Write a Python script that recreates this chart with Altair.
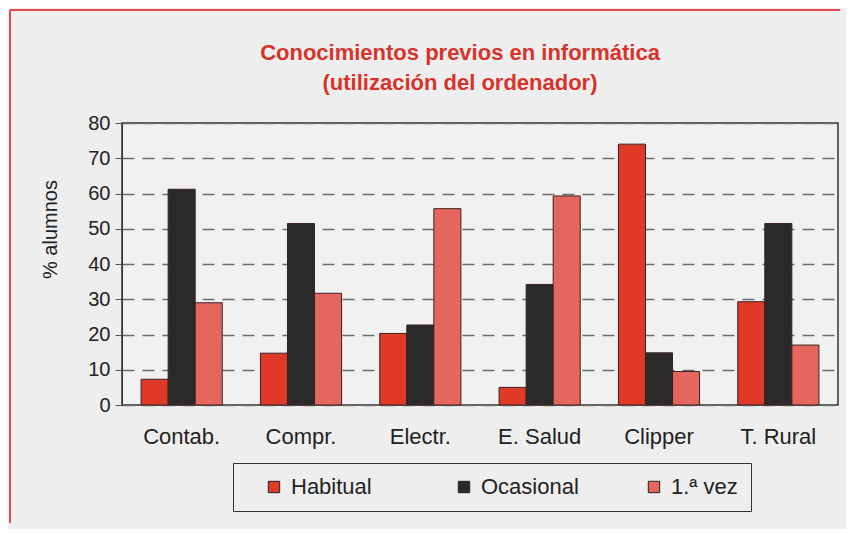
import altair as alt
import pandas as pd

categories = ["Contab.", "Compr.", "Electr.", "E. Salud", "Clipper", "T. Rural"]
series = ["Habitual", "Ocasional", "1.ª vez"]
habitual = [7.3, 14.7, 20.3, 5.0, 74.0, 29.3]
ocasional = [61.2, 51.5, 22.7, 34.2, 14.8, 51.5]
primera = [29.0, 31.7, 55.7, 59.3, 9.5, 17.0]
colors = ["#df3a28", "#2a2a2a", "#e5665d"]
y_ticks = [0, 10, 20, 30, 40, 50, 60, 70, 80]

rows = []
for name, vals in zip(series, [habitual, ocasional, primera]):
    for c, v in zip(categories, vals):
        rows.append({"cat": c, "serie": name, "valor": v})
df = pd.DataFrame(rows)

BG = "#eeeeee"
FONT = "Liberation Sans"

bars = alt.Chart(df).mark_bar(stroke="#3a2222", strokeWidth=1).encode(
    x=alt.X("cat:N", sort=categories,
            scale=alt.Scale(paddingInner=0.32, paddingOuter=0.16),
            axis=alt.Axis(title=None, labelAngle=0, ticks=False, domain=False,
                          labelPadding=21, labelFontSize=22, labelColor="#222",
                          labelFont=FONT, grid=False)),
    xOffset=alt.XOffset("serie:N", sort=series, scale=alt.Scale(paddingInner=0, paddingOuter=0)),
    y=alt.Y("valor:Q", scale=alt.Scale(domain=[0, 80], nice=False),
            axis=alt.Axis(values=y_ticks, title="% alumnos", grid=True,
                          gridDash=[12, 8], gridColor="#6e6e6e", gridWidth=1.5,
                          tickSize=7, tickColor="#555", labelPadding=5,
                          labelFontSize=20, labelColor="#222", labelFont=FONT,
                          domainColor="#333", titleFont=FONT, titleFontSize=20,
                          titleFontWeight="normal", titleColor="#222",
                          titleX=-72, titleY=106, titleAlign="center",
                          titleBaseline="middle", titleAngle=270)),
    color=alt.Color("serie:N", sort=series,
                    scale=alt.Scale(domain=series, range=colors),
                    legend=alt.Legend(title=None, orient="none", legendX=111, legendY=340,
                                      direction="horizontal", strokeColor="#333",
                                      padding=13, symbolType="square", symbolSize=130,
                                      symbolStrokeColor="#222", symbolStrokeWidth=1,
                                      labelFontSize=22, labelFont=FONT, labelColor="#222",
                                      labelOffset=6, columnPadding=47, symbolOffset=17,
                                      gridAlign="all")),
)

frame_df = pd.DataFrame({"a": [0]})
frame_left = alt.Chart(frame_df).mark_rule(color="#e14a4a", strokeWidth=2).encode(
    x=alt.value(-112), y=alt.value(-113), y2=alt.value(400))
frame_top = alt.Chart(frame_df).mark_rule(color="#e14a4a", strokeWidth=2).encode(
    x=alt.value(-112), x2=alt.value(718), y=alt.value(-113))

chart = alt.layer(bars, frame_left, frame_top).properties(
    width=716, height=282,
    padding={"left": 1, "top": 1, "right": 5, "bottom": 5},
    title=alt.TitleParams(
        text=["Conocimientos previos en informática", "(utilización del ordenador)"],
        font=FONT, fontSize=22, fontWeight="bold",
        color="#d8332a", anchor="middle", frame="group", dx=-20, offset=-86,
        lineHeight=30),
    background=BG,
).configure_view(stroke="#333", strokeWidth=1.5, fill="#f1f1f1")

chart.save("out.html", embed_options={"renderer": "svg", "actions": False})
